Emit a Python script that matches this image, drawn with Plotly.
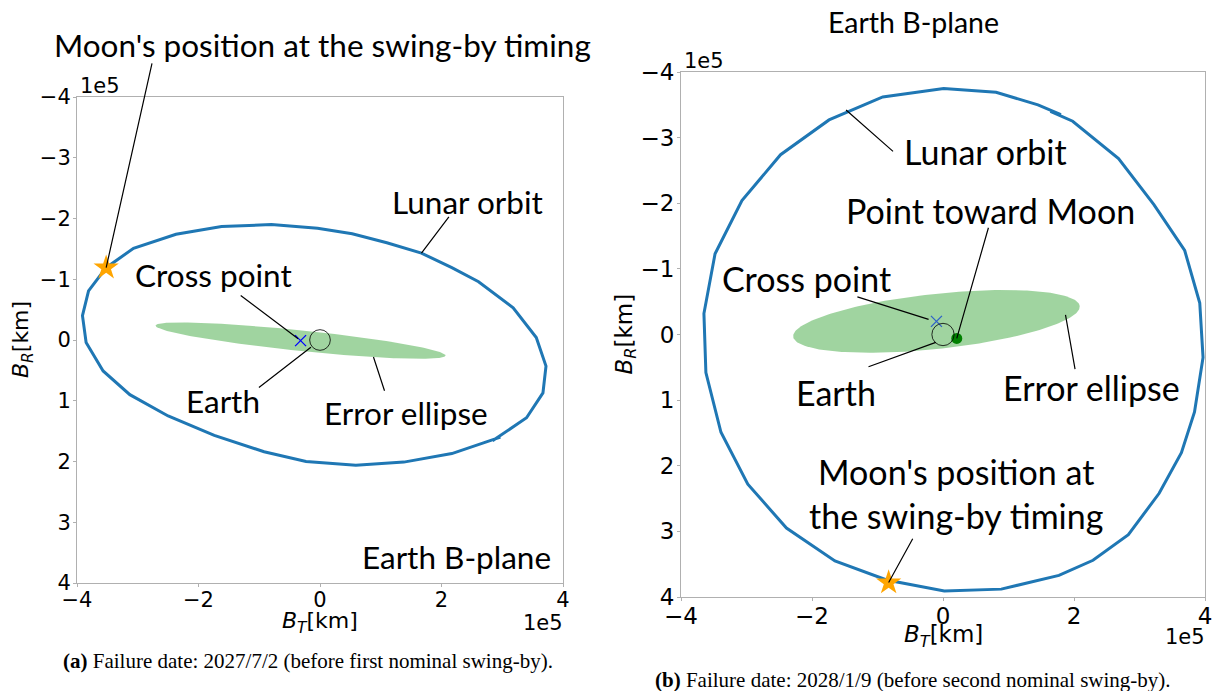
import numpy as np
import plotly.graph_objects as go

# ---- B-plane data, coordinates in units of 1e5 km ----
# (a) failure date 2027/7/2
left_orbit_bt = [2.97, 2.17, 1.38, 0.59, -0.23, -0.92, -1.74, -2.50, -3.13, -3.57, -3.85, -3.91, -3.81,
                 -3.52, -3.07, -2.37, -1.62, -0.80, -0.04, 0.53, 1.10, 1.67, 2.17, 2.61, 3.18, 3.56,
                 3.72, 3.67, 3.40, 2.84]
left_orbit_br = [1.60, 1.87, 2.01, 2.06, 2.00, 1.84, 1.57, 1.25, 0.90, 0.51, 0.04, -0.40, -0.81,
                 -1.19, -1.51, -1.74, -1.87, -1.90, -1.84, -1.75, -1.60, -1.43, -1.19, -0.96, -0.53, -0.04,
                 0.43, 0.87, 1.28, 1.66]
left_moon = [-3.52, -1.19]
left_cross = [-0.32, 0.01]
left_earth = [0.0, 0.0]
left_ellipse = dict(semi_major=2.40, semi_minor=0.17, angle_deg=5.9)

# (b) failure date 2028/1/9
right_orbit_bt = [1.64, 1.98, 2.68, 3.22, 3.69, 3.92, 3.97, 3.84, 3.64, 3.30, 2.83, 2.29, 1.77, 0.89,
                  0.02, -0.86, -1.65, -2.39, -2.98, -3.39, -3.62, -3.65, -3.48, -3.07, -2.48, -1.74,
                  -0.92, 0.01, 0.81, 1.45, 1.80]
right_orbit_br = [-3.40, -3.25, -2.68, -1.98, -1.28, -0.48, 0.35, 1.18, 1.80, 2.42, 3.05, 3.44, 3.67, 3.88,
                  3.91, 3.74, 3.45, 2.95, 2.28, 1.49, 0.58, -0.32, -1.23, -2.04, -2.74, -3.27,
                  -3.62, -3.75, -3.69, -3.50, -3.35]
right_moon = [-0.83, 3.78]
right_cross = [-0.10, -0.20]
right_earth = [0.0, 0.0]
right_toward_moon = [0.21, 0.06]
right_ellipse = dict(semi_major=2.20, semi_minor=0.42, angle_deg=-6.1)

earth_circle_radius = 0.17

x_ticks = [-4, -2, 0, 2, 4]
y_ticks = [-4, -3, -2, -1, 0, 1, 2, 3, 4]

# ---- figure geometry (pixels) ----
W, H = 1215, 691
LEFT_BOX = (77, 563, 97, 583)     # x0, x1, y0(top), y1(bottom)
RIGHT_BOX = (681, 1205, 72, 597)

LABEL_FONT = "Lato"
TICK_FONT = "DejaVu Sans"
SERIF = "Liberation Serif"
ORBIT_BLUE = "#1f77b4"
ELLIPSE_FILL = "rgba(44,160,44,0.45)"
FRAME = "#b0b0b0"


def px_x(p):
    return p / W


def px_y(p):
    return 1 - p / H


def fmt_tick(v):
    return ("\u2212" + str(abs(v))) if v < 0 else str(v)


def ellipse_outline(center, semi_major, semi_minor, angle_deg, n=240):
    t = np.linspace(0, 2 * np.pi, n)
    th = np.deg2rad(angle_deg)
    x = center[0] + semi_major * np.cos(t) * np.cos(th) - semi_minor * np.sin(t) * np.sin(th)
    y = center[1] + semi_major * np.cos(t) * np.sin(th) + semi_minor * np.sin(t) * np.cos(th)
    return x, y


fig = go.Figure()

panels = [
    dict(xa="x", ya="y", orbit=(left_orbit_bt, left_orbit_br), moon=left_moon, cross=left_cross,
         earth=left_earth, ell=left_ellipse, cross_color="blue"),
    dict(xa="x2", ya="y2", orbit=(right_orbit_bt, right_orbit_br), moon=right_moon, cross=right_cross,
         earth=right_earth, ell=right_ellipse, cross_color="#2f62c8"),
]

for p in panels:
    ex, ey = ellipse_outline(p["cross"], **p["ell"])
    fig.add_trace(go.Scatter(x=ex, y=ey, mode="lines", fill="toself", fillcolor=ELLIPSE_FILL,
                             line=dict(width=0), hoverinfo="skip", showlegend=False,
                             xaxis=p["xa"], yaxis=p["ya"]))
    fig.add_trace(go.Scatter(x=p["orbit"][0], y=p["orbit"][1], mode="lines",
                             line=dict(color=ORBIT_BLUE, width=3), showlegend=False,
                             xaxis=p["xa"], yaxis=p["ya"]))
    fig.add_shape(type="circle", xref=p["xa"], yref=p["ya"],
                  x0=p["earth"][0] - earth_circle_radius, x1=p["earth"][0] + earth_circle_radius,
                  y0=p["earth"][1] - earth_circle_radius, y1=p["earth"][1] + earth_circle_radius,
                  line=dict(color="rgba(0,0,0,0.8)", width=1))
    fig.add_trace(go.Scatter(x=[p["cross"][0]], y=[p["cross"][1]], mode="markers",
                             marker=dict(symbol="x-thin", size=11,
                                         line=dict(color=p["cross_color"], width=1.3)),
                             showlegend=False, xaxis=p["xa"], yaxis=p["ya"]))
    fig.add_trace(go.Scatter(x=[p["moon"][0]], y=[p["moon"][1]], mode="markers",
                             marker=dict(symbol="star", size=19, color="orange", line=dict(width=0)),
                             showlegend=False, cliponaxis=False, xaxis=p["xa"], yaxis=p["ya"]))

fig.add_trace(go.Scatter(x=[right_toward_moon[0]], y=[right_toward_moon[1]], mode="markers",
                         marker=dict(symbol="circle", size=11, color="green"),
                         showlegend=False, xaxis="x2", yaxis="y2"))

annotations = []


def label(text, x, y, xa, ya, size, family=LABEL_FONT, xanchor="center", **kw):
    annotations.append(dict(text=text, x=x, y=y, xref=xa, yref=ya, showarrow=False,
                            xanchor=xanchor, yanchor="middle",
                            font=dict(family=family, size=size, color="black"), **kw))


def leader(tail, head, xa, ya):
    annotations.append(dict(text="", x=head[0], y=head[1], ax=tail[0], ay=tail[1],
                            xref=xa, yref=ya, axref=xa, ayref=ya, showarrow=True,
                            arrowhead=0, arrowwidth=1.2, arrowcolor="black",
                            standoff=0, startstandoff=0))


# panel (a) labels
LS = 31.5
label("Moon's position at the swing-by timing", px_x(322), px_y(45), "paper", "paper", LS)
leader((-2.76, -4.58), left_moon, "x", "y")
label("Lunar orbit", 2.43, -2.27, "x", "y", LS)
leader((2.14, -2.05), (1.67, -1.43), "x", "y")
label("Cross point", -1.75, -1.07, "x", "y", LS)
leader((-1.33, -0.75), (-0.36, -0.02), "x", "y")
label("Earth", -1.60, 1.00, "x", "y", LS)
leader((-1.03, 0.80), (-0.15, 0.12), "x", "y")
label("Error ellipse", 1.41, 1.20, "x", "y", LS)
leader((1.07, 0.86), (0.88, 0.28), "x", "y")
label("Earth B-plane", 3.83, 3.58, "x", "y", LS, xanchor="right")

# panel (b) labels
RS = 34
label("Lunar orbit", 0.65, -2.79, "x2", "y2", RS)
leader((-0.74, -2.77), (-1.48, -3.42), "x2", "y2")
label("Point toward Moon", 0.73, -1.89, "x2", "y2", RS)
leader((0.70, -1.65), right_toward_moon, "x2", "y2")
label("Cross point", -2.08, -0.86, "x2", "y2", RS)
leader((-1.33, -0.58), (-0.22, -0.23), "x2", "y2")
label("Earth", -1.64, 0.88, "x2", "y2", RS)
leader((-1.16, 0.50), (-0.11, 0.12), "x2", "y2")
label("Error ellipse", 2.26, 0.80, "x2", "y2", RS)
leader((2.02, 0.55), (1.87, -0.30), "x2", "y2")
label("Moon's position at<br>the swing-by timing", 0.20, 2.42, "x2", "y2", RS)
leader((-0.45, 3.09), right_moon, "x2", "y2")

# panel (b) title
label("Earth B-plane", px_x(913), px_y(22), "paper", "paper", 28.5)

# axis titles, offset exponents and captions
for box, tsize, cap_text, cap_x, cap_y in [
    (LEFT_BOX, 22, "<b>(a)</b> Failure date: 2027/7/2 (before first nominal swing-by).", 308, 661),
    (RIGHT_BOX, 23, "<b>(b)</b> Failure date: 2028/1/9 (before second nominal swing-by).", 913, 680),
]:
    x0, x1, y0, y1 = box
    label("<i>B</i><sub><i>T</i></sub>[km]", px_x((x0 + x1) / 2), px_y(y1 + 39), "paper", "paper", tsize,
          family=TICK_FONT)
    label("<i>B</i><sub><i>R</i></sub>[km]", px_x(x0 - 55), px_y((y0 + y1) / 2), "paper", "paper", tsize,
          family=TICK_FONT, textangle=-90)
    label("1e5", px_x(x0 + 1), px_y(y0 - 11), "paper", "paper", 21, family=TICK_FONT, xanchor="left")
    label("1e5", px_x(x1 + 2), px_y(y1 + 40), "paper", "paper", 21, family=TICK_FONT, xanchor="right")
    label(cap_text, px_x(cap_x), px_y(cap_y), "paper", "paper", 21, family=SERIF)

axis_common = dict(showline=True, linecolor=FRAME, linewidth=1, mirror=True, ticks="outside",
                   ticklen=3, tickcolor=FRAME, showgrid=False, zeroline=False, automargin=False)


def x_axis(box, size, anchor):
    return dict(axis_common, domain=[px_x(box[0]), px_x(box[1])], range=[-4, 4], anchor=anchor,
                tickvals=x_ticks, ticktext=[fmt_tick(v) for v in x_ticks], ticklabelstandoff=-5,
                tickfont=dict(family=TICK_FONT, size=size, color="black"))


def y_axis(box, size, anchor):
    return dict(axis_common, domain=[px_y(box[3]), px_y(box[2])], range=[4, -4], anchor=anchor,
                tickvals=y_ticks, ticktext=[fmt_tick(v) for v in y_ticks], ticklabelstandoff=-2,
                tickfont=dict(family=TICK_FONT, size=size, color="black"))


fig.update_layout(
    width=W, height=H,
    margin=dict(l=0, r=0, t=0, b=0, autoexpand=False),
    paper_bgcolor="white", plot_bgcolor="white",
    showlegend=False,
    xaxis=x_axis(LEFT_BOX, 21, "y"),
    yaxis=y_axis(LEFT_BOX, 21, "x"),
    xaxis2=x_axis(RIGHT_BOX, 23, "y2"),
    yaxis2=y_axis(RIGHT_BOX, 23, "x2"),
    annotations=annotations,
)

fig.write_html("out.html")
